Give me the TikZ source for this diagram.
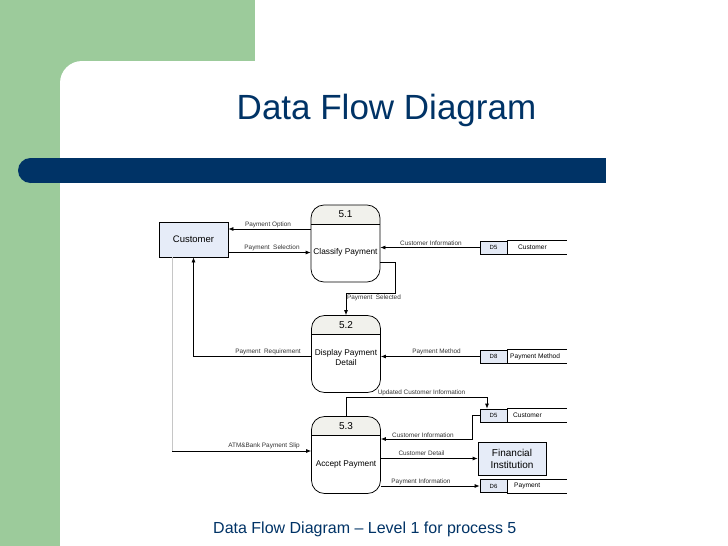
\documentclass[tikz,border=0pt]{standalone}
\usepackage{fontspec}
\setmainfont{Liberation Sans}
\usetikzlibrary{arrows.meta}
\definecolor{slidegreen}{HTML}{9CCB9B}
\definecolor{slideblue}{HTML}{003366}
\definecolor{custfill}{HTML}{E6ECF8}
\definecolor{storefill}{HTML}{E3E9F5}
\definecolor{headfill}{HTML}{F1F1EC}
\definecolor{lblcol}{HTML}{333333}
\begin{document}
\begin{tikzpicture}[x=1pt,y=-1pt,
  proc/.style={draw, line width=0.75pt, rounded corners=13pt, minimum width=69pt, minimum height=77pt, inner sep=0pt,
    path picture={\fill[headfill, sharp corners] (path picture bounding box.north west) rectangle ([yshift=-19pt]path picture bounding box.north east);
      \draw[line width=0.75pt, sharp corners] ([yshift=-19pt]path picture bounding box.north west) -- ([yshift=-19pt]path picture bounding box.north east);}},
  procnum/.style={font=\fontsize{10}{12}\selectfont, inner sep=0pt},
  proctext/.style={font=\fontsize{8.3}{10}\selectfont, align=center, inner sep=0pt},
  entity/.style={draw, line width=0.75pt, fill=custfill, minimum width=69pt, minimum height=35pt, inner sep=0pt, align=center},
  storeid/.style={draw, line width=0.75pt, fill=storefill, minimum width=27pt, minimum height=13pt, inner sep=0pt, font=\fontsize{6}{7}\selectfont},
  storename/.style={anchor=west, inner sep=0pt, font=\fontsize{6.6}{7}\selectfont},
  flow/.style={line width=0.75pt, -{Latex[length=5pt,width=4pt]}},
  plain/.style={line width=0.75pt},
  grayline/.style={line width=0.9pt, draw=gray!45},
  lbl/.style={inner sep=0pt, text=lblcol, font=\fontsize{6.4}{7}\selectfont}
]
\useasboundingbox (0,0) rectangle (728,546);
% background
\fill[white] (0,0) rectangle (728,546);
\fill[slidegreen] (0,0) rectangle (255,90);
\fill[slidegreen] (0,0) rectangle (60,546);
\fill[white, rounded corners=22pt] (60,600) -- (60,61) -- (500,61) -- (500,600) -- cycle;
\fill[slideblue] (30.5,158) rectangle (606,183);
\fill[slideblue] (30.5,170.5) circle (12.5);
\node[text=slideblue, font=\fontsize{35}{38}\selectfont, inner sep=0pt] (title) at (386.5,110) {Data Flow Diagram};
\node[text=slideblue, font=\fontsize{16}{18}\selectfont, inner sep=0pt, anchor=base west] (caption) at (213,533) {Data Flow Diagram -- Level 1 for process 5};

% entities
\node[entity, font=\fontsize{9.5}{11}\selectfont] (cust) at (193.5,239.5) {Customer};
\node[entity, minimum width=68pt, minimum height=33pt, font=\fontsize{10}{12}\selectfont] (fin) at (512,458.5) {Financial\\Institution};

% processes
\node[proc] (p51) at (345.5,243.5) {};
\node[procnum] (n51) at (345.5,214.5) {5.1};
\node[proctext] (t51) at (345.5,252) {Classify Payment};
\node[proc] (p52) at (346,354) {};
\node[procnum] (n52) at (346,325) {5.2};
\node[proctext] (t52) at (346,358) {Display Payment\\Detail};
\node[proc] (p53) at (346,455) {};
\node[procnum] (n53) at (346,426) {5.3};
\node[proctext] (t53) at (346,464) {Accept Payment};

% data stores
\node[storeid] (s1) at (493.5,247.5) {D5};
\node[storename] (s1n) at (518,247.5) {Customer};
\node[storeid] (s2) at (493.5,356.5) {D8};
\node[storename] (s2n) at (510,356.5) {Payment Method};
\node[storeid] (s3) at (493.5,415.5) {D5};
\node[storename] (s3n) at (513,415.5) {Customer};
\node[storeid] (s4) at (493.5,486) {D6};
\node[storename] (s4n) at (514,486) {Payment};
\foreach \s in {s1,s2,s3,s4}{
  \draw[plain] (\s.north east) -- ++(60,0);
  \draw[plain] (\s.south east) -- ++(60,0);
}

% connectors
\draw[flow] (p51.west |- 0,229) -- (cust.east |- 0,229);
\node[lbl] (l1) at (268,225) {Payment Option};
\draw[flow] (cust.east |- 0,252.5) -- (p51.west |- 0,252.5);
\node[lbl] (l2) at (272,248) {Payment\ \ Selection};
\draw[flow] (s1.west) -- (p51.east |- s1.west);
\node[lbl] (l3) at (431,243) {Customer Information};
\coordinate (c1) at (395,293);
\draw[flow] (p51.east |- 0,262) -| (c1) -| (p52.north);
\node[lbl] (l4) at (374,297.5) {Payment\ \ Selected};
\draw[flow] (p52.west |- 0,356) -| (cust.south);
\node[lbl] (l5) at (268,352) {Payment\ \ Requirement};
\draw[flow] (s2.west) -- (p52.east |- s2.west);
\node[lbl] (l6) at (436.5,352) {Payment Method};
\coordinate (c2) at ([xshift=-6.5pt]s3.north);
\draw[flow] (p53.north) |- (c2 |- 0,397) -- (c2);
\node[lbl] (l7) at (421.5,393) {Updated Customer Information};
\coordinate (c3) at (472,439);
\draw[flow] (s3.west) -| (c3) -- (p53.east |- c3);
\node[lbl] (l8) at (423,435) {Customer Information};
\draw[flow] (p53.east |- fin.west) -- (fin.west);
\node[lbl] (l9) at (421.5,453.5) {Customer Detail};
\draw[flow] (p53.east |- s4.west) -- (s4.west);
\node[lbl] (l10) at (421,481.5) {Payment Information};
\coordinate (c4) at (172,451);
\draw[grayline] (cust.south -| c4) -- (c4);
\draw[flow] (c4) -- (p53.west |- c4);
\node[lbl] (l11) at (264,445.5) {ATM\&Bank Payment Slip};
\end{tikzpicture}
\end{document}
